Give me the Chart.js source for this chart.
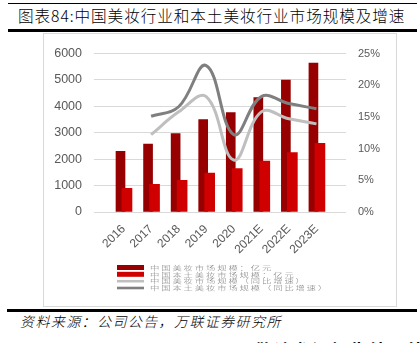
<!DOCTYPE html>
<html>
<head>
<meta charset="utf-8">
<script src="https://cdn.jsdelivr.net/npm/chart.js@4/dist/chart.umd.min.js"></script>
<style>
  html, body { margin: 0; padding: 0; background: #fff; }
  body { width: 420px; height: 343px; position: relative; overflow: hidden; font-family: "Noto Sans CJK SC", sans-serif; }
  .rule { position: absolute; background: #000; }
  #title { position: absolute; left: 18px; top: 5px; font-size: 15.6px; line-height: 20px; letter-spacing: 0.95px; font-weight: 300; color: #000; white-space: nowrap; }
  #frame { position: absolute; left: 43px; top: 33px; width: 352px; height: 272px; border: 1px solid #d9d9d9; }
  #chartBox { position: absolute; left: 44px; top: 34px; width: 352px; height: 271px; }
  #source { position: absolute; left: 20px; top: 312px; font-size: 14px; line-height: 18px; font-style: italic; font-weight: 300; letter-spacing: 1.4px; color: #000; white-space: nowrap; }
  #footer { position: absolute; left: 255px; top: 340px; font-size: 17px; line-height: 20px; font-weight: bold; letter-spacing: 2px; color: #000; white-space: nowrap; }
</style>
</head>
<body>
<div class="rule" style="left:8px; top:3px; width:409px; height:1px;"></div>
<div id="title">图表84:中国美妆行业和本土美妆行业市场规模及增速</div>
<div class="rule" style="left:8px; top:29px; width:409px; height:3px;"></div>
<div id="frame"></div>
<div id="chartBox"><canvas id="c" width="352" height="271"></canvas></div>
<div class="rule" style="left:7px; top:309px; width:410px; height:3px;"></div>
<div id="source">资料来源：公司公告，万联证券研究所</div>
<div id="footer">敬请参阅报告结尾处的免责声明</div>
<script>
// Years (E = estimate)
const categories = ['2016', '2017', '2018', '2019', '2020', '2021E', '2022E', '2023E'];
// 中国美妆市场规模（亿元）
const marketSize = [2300, 2570, 2970, 3500, 3760, 4330, 4990, 5640];
// 中国本土美妆市场规模（亿元）
const localSize = [900, 1050, 1200, 1470, 1640, 1930, 2250, 2600];
// 同比增速（%）
const marketGrowth = [null, 12.2, 15.8, 18.2, 8.2, 15.8, 14.7, 13.9];
const localGrowth = [null, 15.1, 16.6, 23.1, 12.2, 18.2, 17.1, 16.3];
// Axis ticks
const leftTicks = [0, 1000, 2000, 3000, 4000, 5000, 6000];
const rightTicks = [0, 5, 10, 15, 20, 25];

const seriesNames = [
  '中国美妆市场规模：亿元',
  '中国本土美妆市场规模：亿元',
  '中国美妆市场规模（同比增速）',
  '中国本土美妆市场规模（同比增速）'
];

const DARK = '#960000', RED = '#d00000', LIGHT_GREY = '#bfbfbf', GREY = '#7f7f7f';
// the two bars of a year sit side by side, the red one slightly overlapping
const darkShift = -0.11, redShift = 0.125;

const points = (vals, shift) => vals.map((v, i) => ({ x: i + shift, y: v }));

// Legend stacked in four rows under the axis labels; glyphs are drawn wide and short
const rowLegend = {
  id: 'rowLegend',
  afterDraw(chart) {
    const ctx = chart.ctx;
    const x0 = 73, tx = 106, rows = [233.5, 240.3, 247.2, 254];
    const stretch = 1.55;
    ctx.save();
    ctx.textBaseline = 'middle';
    ctx.textAlign = 'left';
    chart.data.datasets.forEach((ds, i) => {
      const y = rows[i];
      if (ds.type === 'bar') {
        ctx.fillStyle = ds.backgroundColor;
        ctx.fillRect(x0, y - 2.5, 27, 5);
      } else {
        ctx.fillStyle = ds.borderColor;
        ctx.fillRect(x0, y - 1.3, 27, 2.6);
      }
      ctx.save();
      ctx.font = '300 6px "Noto Sans CJK SC", sans-serif';
      ctx.fillStyle = '#808080';
      ctx.translate(tx, y);
      ctx.scale(stretch, 1);
      Array.from(ds.label).forEach((ch, k) => ctx.fillText(ch, (k * 11.2) / stretch, 0));
      ctx.restore();
    });
    ctx.restore();
  }
};

const axisFont = size => ({ family: '"Liberation Sans", Arial, sans-serif', size });

new Chart(document.getElementById('c'), {
  data: {
    datasets: [
      { type: 'bar', label: seriesNames[0], data: points(marketSize, darkShift), backgroundColor: DARK,
        barThickness: 9, grouped: false, yAxisID: 'y', order: 3 },
      { type: 'bar', label: seriesNames[1], data: points(localSize, redShift), backgroundColor: RED,
        barThickness: 10, grouped: false, yAxisID: 'y', order: 2 },
      { type: 'line', label: seriesNames[2], data: points(marketGrowth, 0), borderColor: LIGHT_GREY,
        borderWidth: 3, pointRadius: 0, tension: 0.4, yAxisID: 'y1', order: 1 },
      { type: 'line', label: seriesNames[3], data: points(localGrowth, 0), borderColor: GREY,
        borderWidth: 3, pointRadius: 0, tension: 0.4, yAxisID: 'y1', order: 0 }
    ]
  },
  options: {
    responsive: false,
    animation: false,
    devicePixelRatio: 1,
    layout: { padding: { top: 14, left: 0, right: 0, bottom: 0 } },
    plugins: { legend: { display: false }, tooltip: { enabled: false } },
    scales: {
      x: {
        type: 'linear', min: -0.5, max: 7.5,
        afterBuildTicks: s => { s.ticks = categories.map((_, i) => ({ value: i })); },
        afterFit: s => { s.height = 93; },
        grid: { display: false },
        border: { display: false },
        ticks: {
          callback: v => categories[v],
          maxRotation: 45, minRotation: 45, autoSkip: false,
          padding: 2,
          color: '#595959',
          font: axisFont(12)
        }
      },
      y: {
        position: 'left', min: 0, max: 6000,
        afterBuildTicks: s => { s.ticks = leftTicks.map(v => ({ value: v })); },
        afterFit: s => { s.width = 50; },
        grid: { color: '#d9d9d9', lineWidth: 1, drawTicks: false },
        border: { display: false },
        ticks: { padding: 12, callback: v => String(v), color: '#595959', font: axisFont(12.5) }
      },
      y1: {
        position: 'right', min: 0, max: 25,
        afterBuildTicks: s => { s.ticks = rightTicks.map(v => ({ value: v })); },
        afterFit: s => { s.width = 50; },
        grid: { display: false, drawTicks: false },
        border: { display: false },
        ticks: { padding: 12, callback: v => v + '%', color: '#595959', font: axisFont(11) }
      }
    }
  },
  plugins: [rowLegend]
});
</script>
</body>
</html>
